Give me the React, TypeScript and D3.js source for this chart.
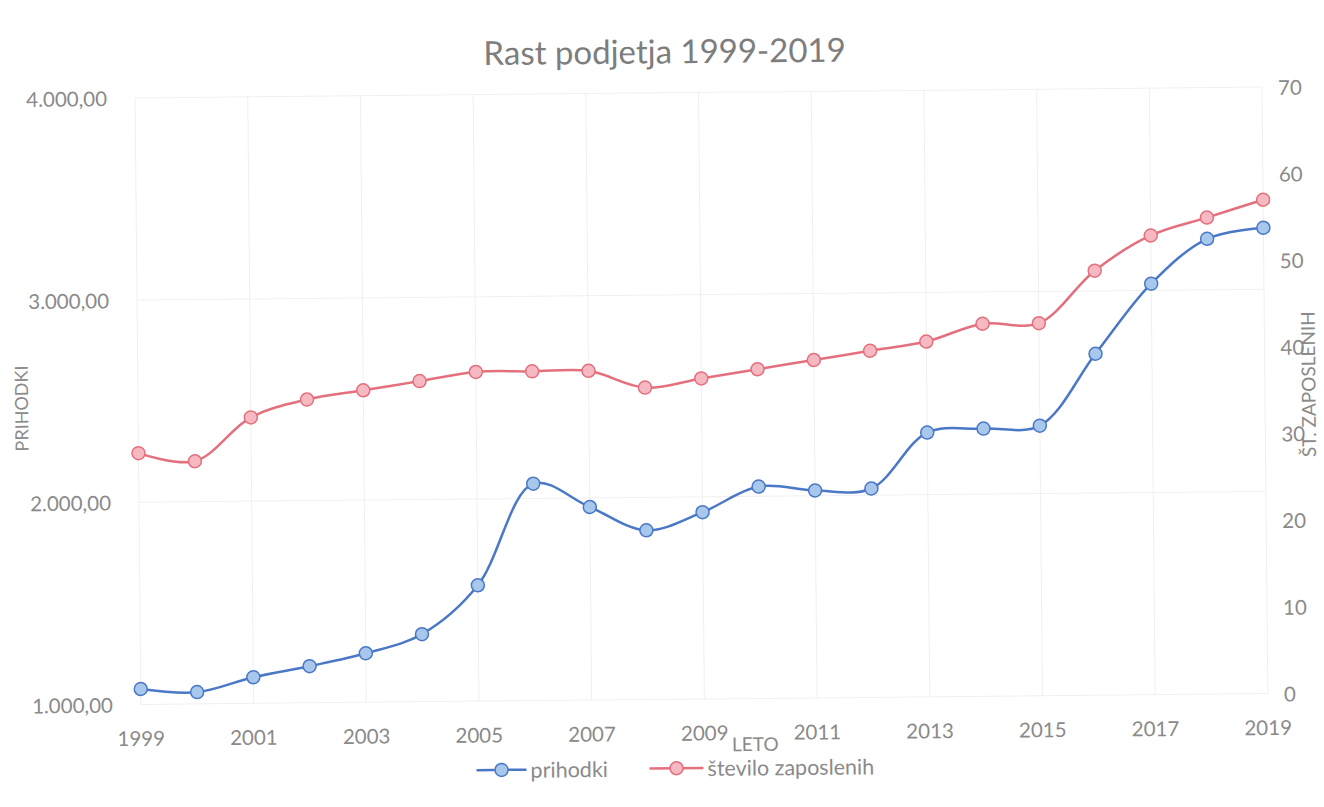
import React from "react";
import * as d3 from "d3";

const years = [1999, 2000, 2001, 2002, 2003, 2004, 2005, 2006, 2007, 2008, 2009, 2010, 2011, 2012, 2013, 2014, 2015, 2016, 2017, 2018, 2019];
const prihodki = [1076, 1058, 1129, 1181, 1242, 1334, 1573, 2073, 1955, 1837, 1924, 2048, 2026, 2033, 2307, 2324, 2336, 2689, 3033, 3252, 3304];
const zaposleni = [29, 28, 33, 35, 36, 37, 38, 38, 38, 36, 37, 38, 39, 40, 41, 43, 43, 49, 53, 55, 57];
const xTickYears = [1999, 2001, 2003, 2005, 2007, 2009, 2011, 2013, 2015, 2017, 2019];
const leftTicks = [1000, 2000, 3000, 4000];
const rightTicks = [0, 10, 20, 30, 40, 50, 60, 70];

const W = 1324;
const H = 807;
const FONT = "Lato, 'Open Sans', sans-serif";
const TXT = "#8a8a8a";
const BLUE = "#4a78c6";
const BLUE_FILL = "#a8c7ec";
const RED = "#e46f7d";
const RED_FILL = "#f6b9c1";

const locale = d3.formatLocale({ decimal: ",", thousands: ".", grouping: [3], currency: ["", ""] });
const fmtLeft = locale.format(",.2f");

export default function App() {
  const top = 92.5;
  const bottom = 699;
  const x = d3.scaleLinear().domain([1999, 2019]).range([138, 1265]);
  const yL = d3.scaleLinear().domain([1000, 4000]).range([bottom, top]);
  const yR = d3.scaleLinear().domain([0, 70]).range([bottom, top]);

  const curve = d3.curveCatmullRom.alpha(0.5);
  const lineBlue = d3.line<number>().x((_, i) => x(years[i])).y((d) => yL(d)).curve(curve);
  const lineRed = d3.line<number>().x((_, i) => x(years[i])).y((d) => yR(d)).curve(curve);

  return (
    <svg width={W} height={H} style={{ position: "absolute", left: 0, top: 0, background: "#fff" }} fontFamily={FONT}>
      <rect x={0} y={0} width={W} height={H} fill="#fff" />
      <g transform="rotate(-0.55 700 400)">
        {/* gridlines */}
        {leftTicks.map((t) => (
          <line key={"h" + t} x1={x(1999)} x2={x(2019)} y1={yL(t)} y2={yL(t)} stroke="#f0f0f0" strokeWidth={1} />
        ))}
        {xTickYears.map((yr) => (
          <line key={"v" + yr} x1={x(yr)} x2={x(yr)} y1={top} y2={bottom} stroke="#f0f0f0" strokeWidth={1} />
        ))}

        {/* title */}
        <text x={668} y={50} textAnchor="middle" dominantBaseline="central" fontSize={33} fill="#7d7d7d">
          Rast podjetja 1999-2019
        </text>

        {/* left ticks */}
        {leftTicks.map((t) => (
          <text key={"lt" + t} x={110} y={yL(t)} textAnchor="end" dominantBaseline="central" fontSize={20.5} fill={TXT}>
            {fmtLeft(t)}
          </text>
        ))}
        {/* right ticks */}
        {rightTicks.map((t) => (
          <text key={"rt" + t} x={1281} y={yR(t)} textAnchor="start" dominantBaseline="central" fontSize={20.5} fill={TXT}>
            {t}
          </text>
        ))}
        {/* x ticks */}
        {xTickYears.map((yr) => (
          <text key={"xt" + yr} x={x(yr)} y={732.5} textAnchor="middle" dominantBaseline="central" fontSize={20.5} fill={TXT}>
            {yr}
          </text>
        ))}

        {/* axis titles */}
        <text transform="translate(21 402) rotate(-90)" textAnchor="middle" dominantBaseline="central" fontSize={18} fill={TXT}>
          PRIHODKI
        </text>
        <text transform="translate(1308 390) rotate(-90)" textAnchor="middle" dominantBaseline="central" fontSize={19} fill={TXT}>
          ŠT. ZAPOSLENIH
        </text>
        <text x={752} y={744} textAnchor="middle" dominantBaseline="central" fontSize={19} fill={TXT}>
          LETO
        </text>

        {/* series */}
        <path d={lineRed(zaposleni) || ""} fill="none" stroke={RED} strokeWidth={2.5} />
        <path d={lineBlue(prihodki) || ""} fill="none" stroke={BLUE} strokeWidth={2.5} />
        {zaposleni.map((v, i) => (
          <circle key={"r" + i} cx={x(years[i])} cy={yR(v)} r={6.5} fill={RED_FILL} stroke={RED} strokeWidth={1.5} />
        ))}
        {prihodki.map((v, i) => (
          <circle key={"b" + i} cx={x(years[i])} cy={yL(v)} r={6.5} fill={BLUE_FILL} stroke={BLUE} strokeWidth={1.5} />
        ))}

        {/* legend */}
        <g transform="translate(0 768)">
          <line x1={473} x2={523} y1={0} y2={0} stroke={BLUE} strokeWidth={2.5} />
          <circle cx={498} cy={0} r={6.5} fill={BLUE_FILL} stroke={BLUE} strokeWidth={1.5} />
          <text x={527} y={0} dominantBaseline="central" fontSize={21.5} fill={TXT}>prihodki</text>
          <line x1={646} x2={700} y1={0} y2={0} stroke={RED} strokeWidth={2.5} />
          <circle cx={673} cy={0} r={6.5} fill={RED_FILL} stroke={RED} strokeWidth={1.5} />
          <text x={704} y={0} dominantBaseline="central" fontSize={21.5} fill={TXT}>število zaposlenih</text>
        </g>
      </g>
    </svg>
  );
}
